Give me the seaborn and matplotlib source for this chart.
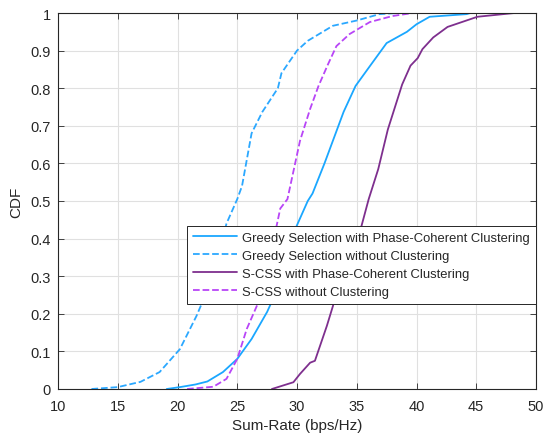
import matplotlib
matplotlib.use("Agg")
import matplotlib.pyplot as plt
import seaborn as sns
import pandas as pd

sns.set_theme(style="whitegrid")
plt.rcParams['font.family'] = ['Liberation Sans', 'DejaVu Sans']

labels = ["Greedy Selection with Phase-Coherent Clustering",
          "Greedy Selection without Clustering",
          "S-CSS with Phase-Coherent Clustering",
          "S-CSS without Clustering"]

greedy_clu_x = [19.1, 20.2, 21.5, 22.5, 23.8, 25.0, 26.2, 27.5, 28.0, 28.7, 29.5, 30.9, 31.3, 32.3, 33.9, 34.9, 35.9, 37.5, 39.2, 40.0, 41.1, 44.2, 44.5]
greedy_clu_y = [0.0, 0.005, 0.012, 0.02, 0.045, 0.08, 0.133, 0.205, 0.24, 0.30, 0.40, 0.50, 0.52, 0.60, 0.737, 0.806, 0.85, 0.92, 0.95, 0.97, 0.99, 0.997, 1.0]

greedy_noclu_x = [12.8, 15.0, 16.9, 18.5, 20.2, 21.6, 23.0, 24.1, 25.0, 25.4, 26.2, 27.1, 28.4, 28.7, 30.0, 30.9, 33.0, 35.0, 36.9, 38.4]
greedy_noclu_y = [0.0, 0.005, 0.019, 0.045, 0.106, 0.195, 0.30, 0.44, 0.505, 0.54, 0.68, 0.737, 0.80, 0.84, 0.90, 0.926, 0.966, 0.98, 0.997, 1.0]

scss_clu_x = [27.9, 29.7, 30.25, 31.1, 31.5, 32.5, 33.0, 33.6, 34.4, 35.4, 36.0, 36.8, 37.6, 38.8, 39.5, 40.1, 40.5, 41.4, 42.6, 45.1, 48.2]
scss_clu_y = [0.0, 0.018, 0.04, 0.07, 0.075, 0.168, 0.22, 0.29, 0.364, 0.434, 0.505, 0.585, 0.69, 0.81, 0.86, 0.88, 0.904, 0.935, 0.963, 0.99, 1.0]

scss_noclu_x = [20.8, 23.0, 24.1, 25.0, 25.8, 26.9, 27.4, 28.6, 29.2, 30.25, 31.1, 31.8, 32.6, 33.3, 34.4, 36.1, 38.0, 39.7]
scss_noclu_y = [0.0, 0.006, 0.027, 0.08, 0.16, 0.24, 0.30, 0.48, 0.505, 0.66, 0.745, 0.806, 0.864, 0.912, 0.944, 0.976, 0.992, 1.0]

series = [
    (greedy_clu_x, greedy_clu_y, "#1AA7FF", "-"),
    (greedy_noclu_x, greedy_noclu_y, "#2BA8FF", "--"),
    (scss_clu_x, scss_clu_y, "#7E2F8E", "-"),
    (scss_noclu_x, scss_noclu_y, "#B845F7", "--"),
]

fig = plt.figure(figsize=(5.45, 4.35), dpi=100)
ax = fig.add_axes([58/545, 45/435, 478/545, 376/435])

for (xs, ys, c, ls), lab in zip(series, labels):
    df = pd.DataFrame({"x": xs, "y": ys})
    sns.lineplot(data=df, x="x", y="y", ax=ax, color=c, linestyle=ls,
                 linewidth=1.3, estimator=None, sort=False, label=lab)

ax.set_xlim(10, 50)
ax.set_ylim(0, 1)
ax.set_xticks(range(10, 51, 5))
ax.set_yticks([i / 10 for i in range(11)])
ax.set_yticklabels(["0", "0.1", "0.2", "0.3", "0.4", "0.5", "0.6", "0.7", "0.8", "0.9", "1"])
ax.set_xlabel("Sum-Rate (bps/Hz)", fontsize=11, color="#262626", labelpad=4)
ax.set_ylabel("CDF", fontsize=11, color="#262626", labelpad=5)
ax.grid(True, color="#E0E0E0", linewidth=0.8)
for s in ax.spines.values():
    s.set_color("#262626")
    s.set_linewidth(0.8)
ax.tick_params(axis="both", which="both", direction="in", length=4, width=0.6,
               colors="#262626", labelsize=10.5, top=True, right=True,
               bottom=True, left=True)
ax.tick_params(axis="x", pad=7)
ax.tick_params(axis="y", pad=5)

leg = ax.legend(loc="upper left", bbox_to_anchor=(0.27, 0.434), fontsize=9.4,
                frameon=True, fancybox=False, framealpha=1, edgecolor="#262626",
                borderpad=0.45, labelspacing=0.45, handlelength=3.4,
                handletextpad=0.35, borderaxespad=0)
leg.get_frame().set_linewidth(0.7)

fig.savefig("out.png", dpi=100)
